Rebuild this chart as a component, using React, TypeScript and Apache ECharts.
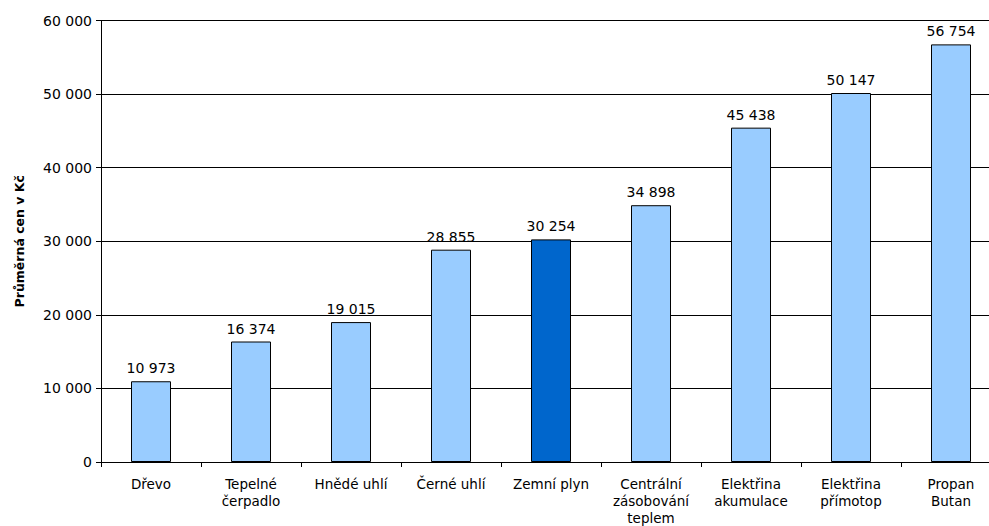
import React, { useEffect, useRef } from "react";
import * as echarts from "echarts";

const categories = [
  "Dřevo",
  "Tepelné\nčerpadlo",
  "Hnědé uhlí",
  "Černé uhlí",
  "Zemní plyn",
  "Centrální\nzásobování\nteplem",
  "Elektřina\nakumulace",
  "Elektřina\npřímotop",
  "Propan\nButan",
];
const values = [10973, 16374, 19015, 28855, 30254, 34898, 45438, 50147, 56754];
const highlightIndex = 4;
const yTitle = "Průměrná cen v Kč";

const fmt = (v: number) => {
  const s = Math.round(v).toString();
  return s.replace(/\B(?=(\d{3})+(?!\d))/g, " ");
};

export default function App() {
  const ref = useRef<HTMLDivElement>(null);
  useEffect(() => {
    if (!ref.current) return;
    const chart = echarts.init(ref.current, undefined, { renderer: "svg" });
    const font = "DejaVu Sans";
    chart.setOption({
      animation: false,
      backgroundColor: "#ffffff",
      grid: { left: 101, top: 20.5, width: 900, height: 442.5, containLabel: false },
      xAxis: {
        type: "category",
        data: categories,
        axisLine: { lineStyle: { color: "#000", width: 1 } },
        axisTick: { show: true, length: 5, lineStyle: { color: "#000" } },
        axisLabel: {
          interval: 0,
          color: "#000",
          fontFamily: font,
          fontSize: 13.5,
          lineHeight: 17,
          margin: 13,
        },
        splitLine: { show: false },
      },
      yAxis: {
        type: "value",
        min: 0,
        max: 60000,
        interval: 10000,
        name: yTitle,
        nameLocation: "middle",
        nameGap: 75,
        nameTextStyle: { fontFamily: font, fontSize: 12.5, fontWeight: "bold", color: "#000" },
        axisLine: { show: true, lineStyle: { color: "#000", width: 1 } },
        axisTick: { show: true, length: 5, lineStyle: { color: "#000" } },
        axisLabel: {
          color: "#000",
          fontFamily: font,
          fontSize: 14,
          margin: 9,
          formatter: (v: number) => fmt(v),
        },
        splitLine: { show: true, lineStyle: { color: "#000", width: 1 } },
      },
      series: [
        {
          type: "bar",
          barWidth: 40,
          data: values.map((v, i) => ({
            value: v,
            itemStyle: {
              color: i === highlightIndex ? "#0066CC" : "#99CCFF",
              borderColor: "#000",
              borderWidth: 1,
            },
          })),
          label: {
            show: true,
            position: "top",
            distance: 6,
            color: "#000",
            fontFamily: font,
            fontSize: 14,
            formatter: (p: any) => fmt(p.value),
          },
        },
      ],
    });
    return () => chart.dispose();
  }, []);
  return (
    <div
      style={{ position: "absolute", left: 0, top: 0, width: 989, height: 526, overflow: "hidden", background: "#fff" }}
    >
      <div ref={ref} style={{ width: 1010, height: 526 }} />
    </div>
  );
}
